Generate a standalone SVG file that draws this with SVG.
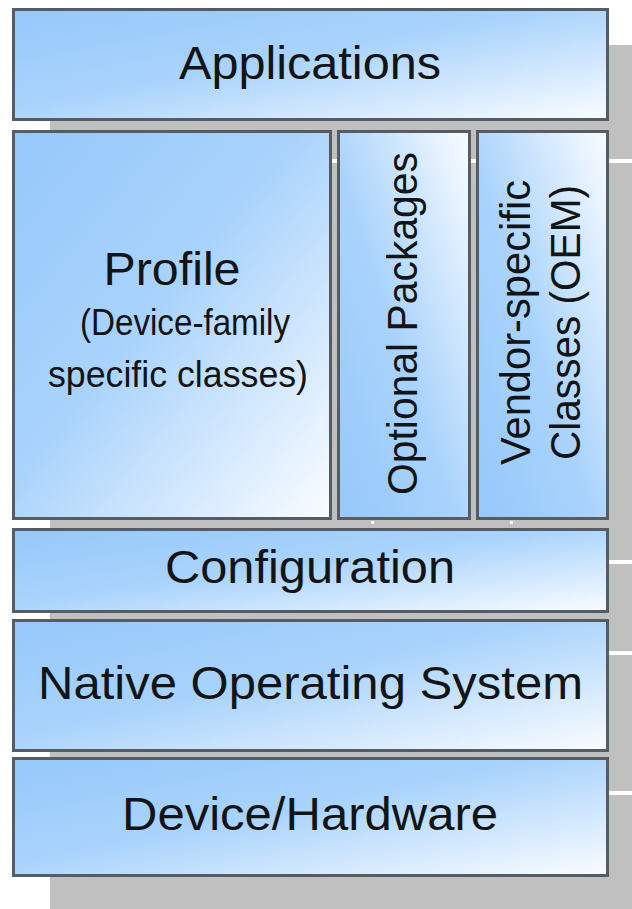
<svg xmlns="http://www.w3.org/2000/svg" width="632" height="909" viewBox="0 0 632 909">
  <style>
    .box { stroke: #555c64; stroke-width: 3; }
    .h { fill: url(#gh); }
    .v { fill: url(#gv); }
    .t { font-family: "Liberation Sans", Arial, sans-serif; fill: #121416; text-anchor: middle; }
    .big { font-size: 46px; }
    .sub { font-size: 36px; }
    .rot { font-size: 42px; }
    .gap { fill: #ffffff; }
  </style>
  <defs>
    <linearGradient id="gh" x1="0" y1="0" x2="1" y2="1">
      <stop offset="0" stop-color="#96c8fa"/>
      <stop offset="0.45" stop-color="#a9d3fc"/>
      <stop offset="1" stop-color="#fafcff"/>
    </linearGradient>
    <linearGradient id="gv" x1="0" y1="1" x2="1" y2="0">
      <stop offset="0" stop-color="#96c8fa"/>
      <stop offset="0.45" stop-color="#a9d3fc"/>
      <stop offset="1" stop-color="#fafcff"/>
    </linearGradient>
  </defs>
  <rect width="632" height="909" fill="#ffffff"/>
  <g id="shadow">
    <rect x="50" y="45" width="582" height="864" fill="#c0c0c0"/>
    <rect class="gap" x="50" y="159" width="582" height="4"/>
    <rect class="gap" x="50" y="560" width="582" height="4"/>
    <rect class="gap" x="50" y="651" width="582" height="4"/>
    <rect class="gap" x="50" y="791" width="582" height="4"/>
    <rect class="gap" x="371" y="521" width="3" height="3"/>
    <rect class="gap" x="510" y="521" width="3" height="3"/>
  </g>
  <g id="applications">
    <rect class="box h" x="13.5" y="9.5" width="594" height="110"/>
    <text class="t big" x="310" y="79" textLength="262" lengthAdjust="spacingAndGlyphs">Applications</text>
  </g>
  <g id="profile">
    <rect class="box h" x="13.5" y="131.5" width="317" height="387"/>
    <text class="t big" x="172" y="285" textLength="137" lengthAdjust="spacingAndGlyphs">Profile</text>
    <text class="t sub" x="185" y="335" textLength="210" lengthAdjust="spacingAndGlyphs">(Device-family</text>
    <text class="t sub" x="178" y="387" textLength="260" lengthAdjust="spacingAndGlyphs">specific classes)</text>
  </g>
  <g id="optional-packages">
    <rect class="box v" x="338.5" y="131.5" width="131" height="387"/>
    <text class="t rot" transform="translate(417,323.5) rotate(-90)" x="0" y="0" textLength="343" lengthAdjust="spacingAndGlyphs">Optional Packages</text>
  </g>
  <g id="vendor-specific">
    <rect class="box v" x="477.5" y="131.5" width="130" height="387"/>
    <text class="t rot" transform="translate(530,322.5) rotate(-90)" x="0" y="0" textLength="285" lengthAdjust="spacingAndGlyphs">Vendor-specific</text>
    <text class="t rot" transform="translate(580,322.5) rotate(-90)" x="0" y="0" textLength="275" lengthAdjust="spacingAndGlyphs">Classes (OEM)</text>
  </g>
  <g id="configuration">
    <rect class="box h" x="13.5" y="529.5" width="594" height="82"/>
    <text class="t big" x="310" y="583" textLength="290" lengthAdjust="spacingAndGlyphs">Configuration</text>
  </g>
  <g id="native-os">
    <rect class="box h" x="13.5" y="620.5" width="594" height="130"/>
    <text class="t big" x="310.5" y="699" textLength="545" lengthAdjust="spacingAndGlyphs">Native Operating System</text>
  </g>
  <g id="device-hardware">
    <rect class="box h" x="13.5" y="758.5" width="594" height="117"/>
    <text class="t big" x="310" y="830" textLength="376" lengthAdjust="spacingAndGlyphs">Device/Hardware</text>
  </g>
</svg>
